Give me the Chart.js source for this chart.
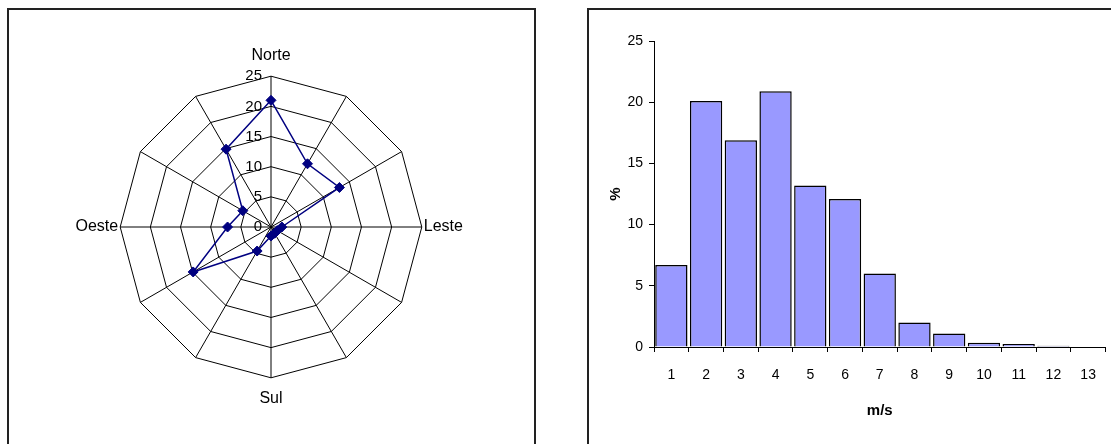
<!DOCTYPE html>
<html>
<head>
<meta charset="utf-8">
<script src="https://cdn.jsdelivr.net/npm/chart.js@4.4.0/dist/chart.umd.min.js"></script>
<style>
  body { margin: 0; width: 1111px; height: 444px; overflow: hidden; background: #fff; }
  .panel { position: absolute; border: 2px solid #222; box-sizing: border-box; }
  #left { left: 7px; top: 8px; width: 529px; height: 450px; }
  #right { left: 587px; top: 8px; width: 600px; height: 450px; }
  canvas { display: block; }
</style>
</head>
<body>
<div class="panel" id="left"><canvas id="rose" width="525" height="434"></canvas></div>
<div class="panel" id="right"><canvas id="hist" width="522" height="434"></canvas></div>
<script>
// wind direction frequency (%) clockwise from north, 30 degree sectors
const directions = ['Norte', '', '', 'Leste', '', '', 'Sul', '', '', 'Oeste', '', ''];
const frequency = [21.0, 12.1, 13.1, 1.8, 1.2, 1.2, 1.5, 4.6, 14.9, 7.2, 5.4, 14.9];

// wind speed histogram
const speedClasses = ['1', '2', '3', '4', '5', '6', '7', '8', '9', '10', '11', '12', '13'];
const speedShare = [6.7, 20.1, 16.9, 20.9, 13.2, 12.1, 6.0, 2.0, 1.1, 0.35, 0.25, 0.1, 0];

const FONT = '"Liberation Sans", Arial, sans-serif';
Chart.defaults.font.family = FONT;
Chart.defaults.font.size = 14;
Chart.defaults.color = '#000';

// Excel-style radial tick labels, right-aligned left of the north axis
const radialTickLabels = {
  id: 'radialTickLabels',
  afterDatasetsDraw(chart) {
    const r = chart.scales.r;
    const ctx = chart.ctx;
    ctx.save();
    ctx.font = '15px ' + FONT;
    ctx.fillStyle = '#000';
    ctx.textAlign = 'right';
    ctx.textBaseline = 'middle';
    r.ticks.forEach(t => {
      const d = r.getDistanceFromCenterForValue(t.value);
      ctx.fillText(t.label, r.xCenter - 9, r.yCenter - d);
    });
    ctx.restore();
  }
};

new Chart(document.getElementById('rose'), {
  type: 'radar',
  data: {
    labels: directions,
    datasets: [{
      data: frequency,
      borderColor: '#000080',
      borderWidth: 1.5,
      backgroundColor: 'transparent',
      fill: false,
      pointStyle: 'rectRot',
      pointRadius: 5,
      pointBorderWidth: 1,
      pointBackgroundColor: '#000080',
      pointBorderColor: '#000080'
    }]
  },
  options: {
    responsive: false,
    animation: false,
    layout: { padding: { top: 36, bottom: 36 } },
    plugins: { legend: { display: false }, tooltip: { enabled: false } },
    scales: {
      r: {
        min: 0,
        max: 25,
        ticks: { stepSize: 5, display: false },
        grid: { color: '#000', lineWidth: 1 },
        angleLines: { color: '#000', lineWidth: 1 },
        pointLabels: {
          color: '#000',
          font: { size: 16 },
          // north/south labels sit further out than east/west
          padding: ctx => (ctx.index === 0 || ctx.index === 6) ? 11 : 2
        }
      }
    }
  },
  plugins: [radialTickLabels]
});

new Chart(document.getElementById('hist'), {
  type: 'bar',
  data: {
    labels: speedClasses,
    datasets: [{
      data: speedShare,
      backgroundColor: '#9999ff',
      borderColor: '#000',
      borderWidth: 1.5,
      barPercentage: 0.93,
      categoryPercentage: 1
    }]
  },
  options: {
    responsive: false,
    animation: false,
    layout: { padding: { top: 31, right: 2, left: 0, bottom: 0 } },
    plugins: { legend: { display: false }, tooltip: { enabled: false } },
    scales: {
      x: {
        grid: { offset: true, drawOnChartArea: false, color: '#000', tickLength: 5 },
        border: { color: '#000' },
        ticks: { padding: 15, maxRotation: 0, autoSkip: false },
        title: { display: true, text: 'm/s', font: { size: 15, weight: 'bold' }, padding: { top: 4, bottom: 24 } },
        afterFit(s) { s.height = 97; }
      },
      y: {
        min: 0,
        max: 25,
        ticks: { stepSize: 5, padding: 6 },
        grid: { drawOnChartArea: false, color: '#000', tickLength: 5 },
        border: { color: '#000' },
        title: { display: true, text: '%', font: { size: 15, weight: 'bold' }, padding: { top: 18, bottom: 0 } },
        afterFit(s) { s.width = 65; }
      }
    }
  }
});
</script>
</body>
</html>
